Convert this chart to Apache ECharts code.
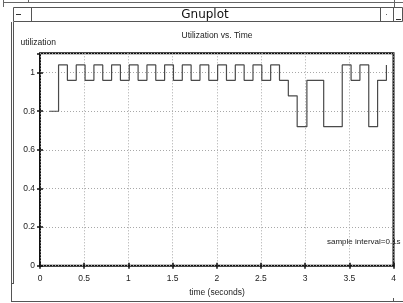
<!DOCTYPE html>
<html>
<head>
<meta charset="utf-8">
<script src="https://cdn.jsdelivr.net/npm/echarts@6/dist/echarts.min.js"></script>
<style>html,body{margin:0;padding:0;background:#fff;}#c{width:403px;height:303px;}</style>
</head>
<body>
<div id="c"></div>
<script>
// sample times (seconds)
var times = [0.105, 0.21, 0.31, 0.41, 0.51, 0.61, 0.71, 0.81, 0.91, 1.01,
             1.11, 1.21, 1.31, 1.41, 1.51, 1.61, 1.71, 1.81, 1.91, 2.01,
             2.11, 2.21, 2.31, 2.41, 2.51, 2.61, 2.71, 2.81, 2.91, 3.02,
             3.12, 3.21, 3.32, 3.42, 3.52, 3.62, 3.72, 3.82, 3.92];
// utilization values
var utilization = [0.80, 1.04, 0.96, 1.04, 0.96, 1.04, 0.96, 1.04, 0.96, 1.04,
                   0.96, 1.04, 0.96, 1.04, 0.96, 1.04, 0.96, 1.04, 0.96, 1.04,
                   0.96, 1.04, 0.96, 1.04, 0.96, 1.04, 0.96, 0.88, 0.72, 0.96,
                   0.96, 0.72, 0.72, 1.04, 0.96, 1.04, 0.72, 0.96, 1.04];
var xTicks = [0, 0.5, 1, 1.5, 2, 2.5, 3, 3.5, 4];
var yTicks = [0, 0.2, 0.4, 0.6, 0.8, 1];

var FONT = 'Liberation Sans';
var TXT = '#222';
var pts = times.map(function (t, i) { return [t, utilization[i]]; });

var chart = echarts.init(document.getElementById('c'), null, {renderer: 'canvas'});

var grid = {left: 40, right: 9.5, top: 53.3, bottom: 37.3, show: true,
            borderColor: '#111', borderWidth: 2, backgroundColor: 'transparent'};

function fmtX(v) { return xTicks.indexOf(+v.toFixed(2)) >= 0 ? String(+v.toFixed(2)) : ''; }
function fmtY(v) { return yTicks.indexOf(+v.toFixed(2)) >= 0 ? String(+v.toFixed(2)) : ''; }

var dotted = {show: true, lineStyle: {color: '#a8a8a8', type: [1, 2], width: 1}};

function frameLine(x1, y1, x2, y2, c) {
  return {type: 'line', silent: true, z: 1,
          shape: {x1: x1, y1: y1, x2: x2, y2: y2},
          style: {stroke: c || '#555', lineWidth: 1}};
}

var option = {
  animation: false,
  backgroundColor: '#fff',
  grid: grid,
  xAxis: [{
    type: 'value', min: 0, max: 4, interval: 0.5, position: 'bottom',
    axisLine: {show: false},
    axisTick: {show: true, inside: true, length: 3, lineStyle: {color: '#111', width: 1.5}},
    axisLabel: {formatter: fmtX, fontFamily: FONT, fontSize: 8.5, color: TXT, margin: 8},
    splitLine: dotted
  }, {
    type: 'value', min: 0, max: 4, interval: 0.5, position: 'top',
    axisLine: {show: false},
    axisTick: {show: true, inside: true, length: 3, lineStyle: {color: '#111', width: 1.5}},
    axisLabel: {show: false},
    splitLine: {show: false}
  }],
  yAxis: [{
    type: 'value', min: 0, max: 1.1, interval: 0.2, position: 'left',
    axisLine: {show: false},
    axisTick: {show: true, inside: true, length: 3, lineStyle: {color: '#111', width: 1.5}},
    axisLabel: {formatter: fmtY, fontFamily: FONT, fontSize: 8.5, color: TXT, margin: 5, showMaxLabel: false},
    splitLine: dotted
  }, {
    type: 'value', min: 0, max: 1.1, interval: 0.2, position: 'right',
    axisLine: {show: false},
    axisTick: {show: true, inside: true, length: 3, lineStyle: {color: '#111', width: 1.5}},
    axisLabel: {show: false},
    splitLine: {show: false}
  }],
  series: [{
    type: 'line', xAxisIndex: 0, yAxisIndex: 0,
    step: 'end', data: pts, showSymbol: false, symbol: 'none',
    lineStyle: {color: '#4a4a4a', width: 1.2}, z: 5
  }],
  graphic: [
    // window frame
    frameLine(3, 2.5, 403, 2.5, '#666'),
    frameLine(3.5, 0, 3.5, 7, '#666'),
    frameLine(28.5, 0, 28.5, 2.5, '#666'),
    frameLine(394.5, 0, 394.5, 22, '#666'),
    {type: 'rect', silent: true, z: 1, shape: {x: 13.5, y: 7.5, width: 389, height: 14},
     style: {fill: '#fff', stroke: '#555', lineWidth: 1}},
    frameLine(31.5, 7.5, 31.5, 21.5, '#555'),
    frameLine(380.5, 7.5, 380.5, 21.5, '#555'),
    frameLine(393.5, 7.5, 393.5, 21.5, '#555'),
    frameLine(16, 14.5, 21, 14.5, '#333'),
    frameLine(396, 19.5, 401, 19.5, '#333'),
    {type: 'rect', silent: true, z: 1, shape: {x: 386, y: 14, width: 1, height: 1}, style: {fill: '#666'}},
    {type: 'text', silent: true, z: 2, x: 205, y: 14.5,
     style: {text: 'Gnuplot', font: '12px "DejaVu Sans"', fill: '#111', textAlign: 'center', textVerticalAlign: 'middle'}},
    frameLine(11.5, 22, 11.5, 302, '#555'),
    frameLine(13.5, 22, 13.5, 283, '#555'),
    frameLine(11, 283.5, 14, 283.5, '#555'),
    frameLine(11, 301.5, 403, 301.5, '#555'),
    frameLine(393.5, 298, 393.5, 301, '#555'),
    // texts
    {type: 'text', silent: true, z: 3, x: 217, y: 36,
     style: {text: 'Utilization vs. Time', font: '8.5px "Liberation Sans"', fill: TXT, textAlign: 'center', textVerticalAlign: 'middle'}},
    {type: 'text', silent: true, z: 3, x: 20.5, y: 43,
     style: {text: 'utilization', font: '8.5px "Liberation Sans"', fill: TXT, textAlign: 'left', textVerticalAlign: 'middle'}},
    {type: 'text', silent: true, z: 3, x: 217, y: 293,
     style: {text: 'time (seconds)', font: '8.5px "Liberation Sans"', fill: TXT, textAlign: 'center', textVerticalAlign: 'middle'}},
    {type: 'text', silent: true, z: 0, x: 327, y: 242,
     style: {text: 'sample interval=0.1s', font: '8px "Liberation Sans"', fill: TXT, textAlign: 'left', textVerticalAlign: 'middle'}}
  ]
};
chart.setOption(option);
</script>
</body>
</html>
